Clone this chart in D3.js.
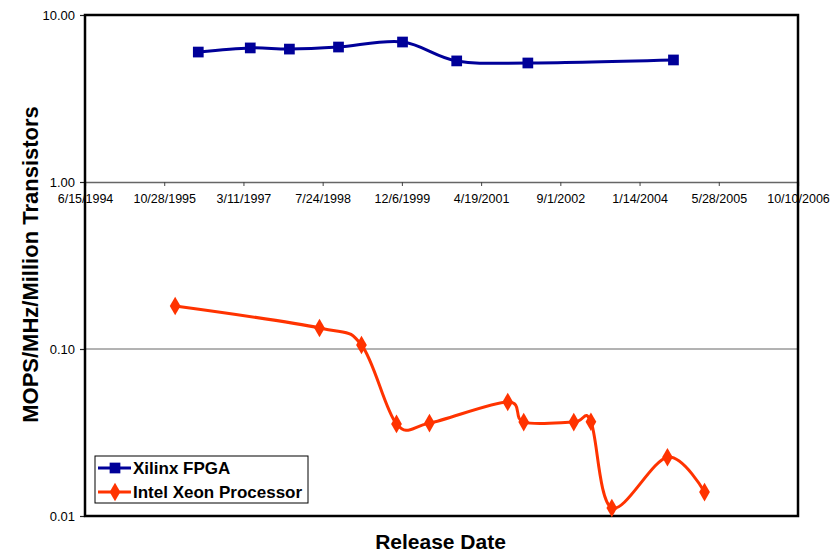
<!DOCTYPE html>
<html>
<head>
<meta charset="utf-8">
<script src="https://cdn.jsdelivr.net/npm/d3@7"></script>
<style>
  body { margin: 0; background: #fff; }
  svg text { font-family: Arial, "Liberation Sans", sans-serif; }
</style>
</head>
<body>
<div id="wrapper"></div>
<script>
// Data
var xTickLabels = ["6/15/1994", "10/28/1995", "3/11/1997", "7/24/1998", "12/6/1999",
                   "4/19/2001", "9/1/2002", "1/14/2004", "5/28/2005", "10/10/2006"];
var yTickValues = [0.01, 0.1, 1, 10];

var fpgaDates  = ["5/30/1996", "4/23/1997", "12/26/1997", "11/1/1998", "12/10/1999",
                  "11/16/2000", "2/8/2002", "8/15/2004"];
var fpgaValues = [6.0, 6.35, 6.25, 6.43, 6.89, 5.31, 5.16, 5.38];

var xeonDates  = ["1/5/1996", "7/4/1998", "3/26/1999", "11/2/1999", "5/28/2000",
                  "10/4/2001", "1/13/2002", "11/25/2002", "3/13/2003", "7/23/2003",
                  "7/8/2004", "2/27/2005"];
var xeonValues = [0.181, 0.1337, 0.1057, 0.0356, 0.0360, 0.0482, 0.0365, 0.0365,
                  0.0367, 0.01117, 0.0225, 0.0139];

var seriesNames = ["Xilinx FPGA", "Intel Xeon Processor"];

var width = 839, height = 554;
var margin = { top: 15, right: 41, bottom: 38, left: 85 };
var plotW = width - margin.left - margin.right;
var plotH = height - margin.top - margin.bottom;

var parse = d3.utcParse("%m/%d/%Y");
var fmt = d3.utcFormat("%-m/%-d/%Y");

var svg = d3.select("#wrapper").append("svg")
    .attr("width", width)
    .attr("height", height)
    .append("g")
    .attr("transform", "translate(" + margin.left + "," + margin.top + ")");

var xTicks = xTickLabels.map(parse);
var x = d3.scaleUtc()
    .domain([xTicks[0], xTicks[xTicks.length - 1]])
    .range([0, plotW]);

var y = d3.scaleLog()
    .domain([0.01, 10])
    .range([plotH, 0]);

// gridline at 0.1
svg.append("line")
    .attr("x1", 0).attr("x2", plotW)
    .attr("y1", y(0.1)).attr("y2", y(0.1))
    .attr("stroke", "#666").attr("stroke-width", 1);

// x axis crosses at 1.00
var xAxis = svg.append("g")
    .attr("transform", "translate(0," + y(1) + ")")
    .call(d3.axisBottom(x).tickValues(xTicks).tickFormat(fmt).tickSize(4).tickPadding(8));
xAxis.select(".domain").attr("stroke", "#666").attr("stroke-width", 1.3);
xAxis.selectAll(".tick line").attr("stroke", "#444");
xAxis.selectAll("text").style("font-size", "12.5px").attr("fill", "#000");

// y axis
var yAxis = svg.append("g")
    .call(d3.axisLeft(y).tickValues(yTickValues).tickFormat(d3.format(".2f")).tickSize(5).tickPadding(5));
yAxis.select(".domain").remove();
yAxis.selectAll(".tick line").attr("stroke", "#222").attr("stroke-width", 1.2);
yAxis.selectAll("text").style("font-size", "13px").attr("fill", "#000");

// plot frame
svg.append("rect")
    .attr("x", 0).attr("y", 0)
    .attr("width", plotW).attr("height", plotH)
    .attr("fill", "none")
    .attr("stroke", "#000")
    .attr("stroke-width", 2.5);

var line = d3.line()
    .x(function(d) { return x(d.date); })
    .y(function(d) { return y(d.value); })
    .curve(d3.curveCardinal.tension(0));

var fpga = fpgaDates.map(function(d, i) { return { date: parse(d), value: fpgaValues[i] }; });
var xeon = xeonDates.map(function(d, i) { return { date: parse(d), value: xeonValues[i] }; });

var blue = "#000099", red = "#ff3300";

svg.append("path").datum(fpga)
    .attr("d", line).attr("fill", "none")
    .attr("stroke", blue).attr("stroke-width", 3);
svg.append("path").datum(xeon)
    .attr("d", line).attr("fill", "none")
    .attr("stroke", red).attr("stroke-width", 3);

var square = d3.symbol().type(d3.symbolSquare).size(115);
var diamond = d3.symbol().type(d3.symbolDiamond).size(100);

svg.selectAll(".fpga-pt")
    .data(fpga).enter().append("path")
    .attr("class", "fpga-pt")
    .attr("transform", function(d) { return "translate(" + x(d.date) + "," + y(d.value) + ")"; })
    .attr("d", square).attr("fill", blue);

svg.selectAll(".xeon-pt")
    .data(xeon).enter().append("path")
    .attr("class", "xeon-pt")
    .attr("transform", function(d) { return "translate(" + x(d.date) + "," + y(d.value) + ")"; })
    .attr("d", diamond).attr("fill", red);

// legend
var legend = svg.append("g").attr("transform", "translate(10,441)");
legend.append("rect")
    .attr("width", 213).attr("height", 47)
    .attr("fill", "#fff").attr("stroke", "#000").attr("stroke-width", 1);
var items = legend.selectAll(".item")
    .data(seriesNames).enter().append("g")
    .attr("transform", function(d, i) { return "translate(0," + (12 + i * 24) + ")"; });
items.append("line")
    .attr("x1", 3).attr("x2", 36)
    .attr("stroke", function(d, i) { return i === 0 ? blue : red; })
    .attr("stroke-width", 3);
items.append("path")
    .attr("transform", "translate(20,0)")
    .attr("d", function(d, i) { return i === 0 ? square() : diamond(); })
    .attr("fill", function(d, i) { return i === 0 ? blue : red; });
items.append("text")
    .attr("x", 38).attr("dy", "0.36em")
    .style("font-size", "17px").style("font-weight", "bold")
    .text(function(d) { return d; });

// axis titles
svg.append("text")
    .attr("transform", "translate(-47," + (plotH / 2 - 1) + ") rotate(-90)")
    .attr("text-anchor", "middle")
    .style("font-size", "22px").style("font-weight", "bold")
    .text("MOPS/MHz/Million Transistors");

svg.append("text")
    .attr("x", plotW / 2 - 1).attr("y", plotH + 33)
    .attr("text-anchor", "middle")
    .style("font-size", "21px").style("font-weight", "bold")
    .text("Release Date");
</script>
</body>
</html>
